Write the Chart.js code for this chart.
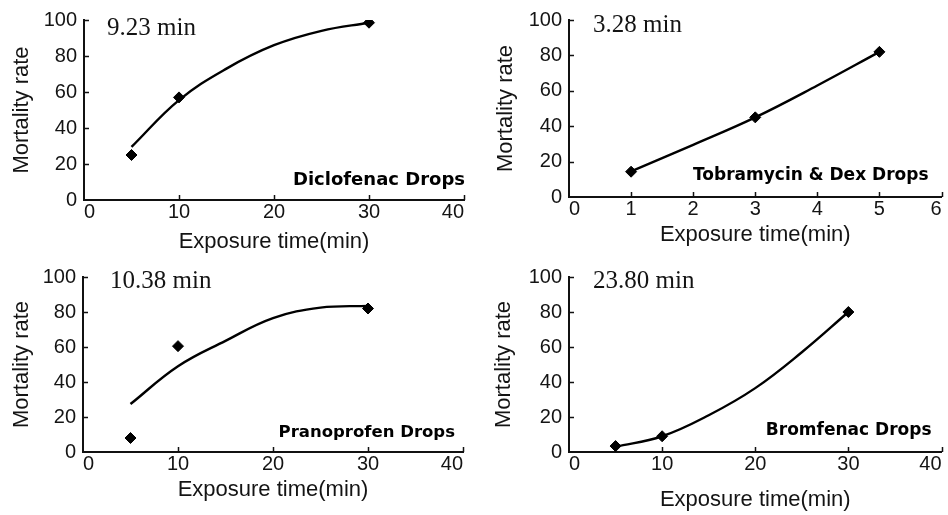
<!DOCTYPE html>
<html><head><meta charset="utf-8">
<script src="https://cdn.jsdelivr.net/npm/chart.js@4"></script>
<style>
html,body{margin:0;padding:0;background:#fff;overflow:hidden;width:948px;height:515px;}
canvas{position:absolute;}
</style></head><body>
<canvas id="c0" width="474" height="255" style="left:0;top:0"></canvas>
<canvas id="c1" width="474" height="255" style="left:474px;top:0"></canvas>
<canvas id="c2" width="474" height="260" style="left:0;top:255px"></canvas>
<canvas id="c3" width="474" height="260" style="left:474px;top:255px"></canvas>
<script>
// ---- data ----
const panelNames = ['Diclofenac Drops', 'Tobramycin & Dex Drops', 'Pranoprofen Drops', 'Bromfenac Drops'];
const halfTimes = ['9.23 min', '3.28 min', '10.38 min', '23.80 min'];
const xAxisTitle = 'Exposure time(min)';
const yAxisTitle = 'Mortality rate';

const dicloTime = [5, 10, 30];
const dicloRate = [25, 57, 98.5];
const dicloFitTime = [5, 10, 15, 20, 25, 30];
const dicloFitRate = [29.5, 55.5, 73, 86, 94, 98.5];

const tobraTime = [1, 3, 5];
const tobraRate = [14.3, 45, 82];
const tobraFitTime = [1, 2, 3, 4, 5];
const tobraFitRate = [14.5, 29.5, 45, 63, 82];

const pranoTime = [5, 10, 30];
const pranoRate = [8, 60.5, 82];
const pranoFitTime = [5, 10, 15, 20, 25, 30];
const pranoFitRate = [27.4, 49, 63.5, 76.5, 82.5, 83.5];

const bromTime = [5, 10, 30];
const bromRate = [3.4, 9, 80];
const bromFitTime = [5, 10, 15, 20, 25, 30];
const bromFitRate = [3, 9, 21, 36.5, 57, 80];

const xMaxes = [40, 6, 40, 40];
const xSteps = [10, 1, 10, 10];
const yMax = 100;
const yStep = 20;

// ---- drawing ----
const SANS = '"Liberation Sans", Arial, sans-serif';
const INK = '#141414';

const pairs = (xs, ys) => xs.map((x, i) => ({x: x, y: ys[i]}));

const panels = [
  {id: 'c0', area: [84, 20, 464, 200], ptX: dicloTime, ptY: dicloRate, fitX: dicloFitTime, fitY: dicloFitRate,
   yTitlePad: 9, xTitlePad: 0, half: [23, 15], lab: [-1, -15, 18]},
  {id: 'c1', area: [95, 20, 471, 197], ptX: tobraTime, ptY: tobraRate, fitX: tobraFitTime, fitY: tobraFitRate,
   yTitlePad: 19, xTitlePad: 7, half: [24, 12], lab: [13, -17, 17]},
  {id: 'c2', area: [83, 22, 463, 197], ptX: pranoTime, ptY: pranoRate, fitX: pranoFitTime, fitY: pranoFitRate,
   yTitlePad: 9, xTitlePad: 12, half: [27, 11], lab: [8, -15, 16.5]},
  {id: 'c3', area: [95, 22, 473, 197], ptX: bromTime, ptY: bromRate, fitX: bromFitTime, fitY: bromFitRate,
   yTitlePad: 17, xTitlePad: 2, half: [24, 11], lab: [10, -17, 17]}
];

const decorPlugin = {
  id: 'decor',
  afterDraw(chart, args, opts) {
    const ctx = chart.ctx, a = chart.chartArea;
    const xs = chart.scales.x, ys = chart.scales.y;
    ctx.save();
    // inward tick marks
    ctx.strokeStyle = '#111';
    ctx.lineWidth = 1.5;
    ctx.beginPath();
    xs.ticks.forEach(t => {
      if (t.value === xs.min) return;
      const px = Math.round(xs.getPixelForValue(t.value)) + 0.5;
      ctx.moveTo(px, a.bottom); ctx.lineTo(px, a.bottom - 5);
    });
    ys.ticks.forEach(t => {
      if (t.value === ys.min) return;
      const py = Math.round(ys.getPixelForValue(t.value)) + 0.5;
      ctx.moveTo(a.left, py); ctx.lineTo(a.left + 5, py);
    });
    ctx.stroke();
    // half-time annotation
    ctx.fillStyle = INK;
    ctx.font = '25px "Liberation Serif", "Times New Roman", serif';
    ctx.textAlign = 'left';
    ctx.textBaseline = 'alphabetic';
    ctx.fillText(opts.half, a.left + opts.halfPos[0], a.top + opts.halfPos[1]);
    // drug name
    ctx.font = 'bold ' + opts.lab[2] + 'px "DejaVu Sans", sans-serif';
    ctx.textAlign = 'right';
    ctx.fillStyle = '#000';
    ctx.fillText(opts.name, a.right - opts.lab[0], a.bottom + opts.lab[1]);
    ctx.restore();
  }
};

panels.forEach((p, i) => {
  const cv = document.getElementById(p.id);
  const W = cv.width, H = cv.height;
  const ca = p.area;
  new Chart(cv, {
    type: 'scatter',
    data: {
      datasets: [
        {data: pairs(p.fitX, p.fitY), showLine: true, borderColor: '#000', borderWidth: 2.4,
         pointRadius: 0, tension: 0.4, fill: false, order: 2},
        {data: pairs(p.ptX, p.ptY), showLine: false, pointStyle: 'rectRot', pointRadius: 5.5,
         backgroundColor: '#000', borderColor: '#000', borderWidth: 1, order: 1}
      ]
    },
    options: {
      responsive: false, animation: false, devicePixelRatio: 1,
      layout: {padding: {left: 0, top: ca[1], right: W - ca[2], bottom: 0}},
      plugins: {
        legend: {display: false}, tooltip: {enabled: false},
        decor: {half: halfTimes[i], halfPos: p.half, name: panelNames[i], lab: p.lab}
      },
      scales: {
        x: {
          type: 'linear', min: 0, max: xMaxes[i],
          ticks: {stepSize: xSteps[i], align: 'inner', padding: 0, color: INK, font: {family: SANS, size: 20}},
          grid: {display: true, drawOnChartArea: false, drawTicks: false},
          border: {display: true, color: '#111', width: 2},
          title: {display: true, text: xAxisTitle, color: INK, font: {family: SANS, size: 22},
                  padding: {top: 0, bottom: p.xTitlePad}},
          afterFit(s) { s.height = H - ca[3]; s.paddingLeft = 0; s.paddingRight = 0; }
        },
        y: {
          type: 'linear', min: 0, max: yMax,
          ticks: {stepSize: yStep, padding: 7, color: INK, font: {family: SANS, size: 20}},
          grid: {display: true, drawOnChartArea: false, drawTicks: false},
          border: {display: true, color: '#111', width: 2},
          title: {display: true, text: yAxisTitle, color: INK, font: {family: SANS, size: 22},
                  padding: {top: p.yTitlePad, bottom: 0}},
          afterFit(s) { s.width = ca[0]; s.paddingTop = 0; s.paddingBottom = 0; }
        }
      }
    },
    plugins: [decorPlugin]
  });
});
</script>
</body></html>
